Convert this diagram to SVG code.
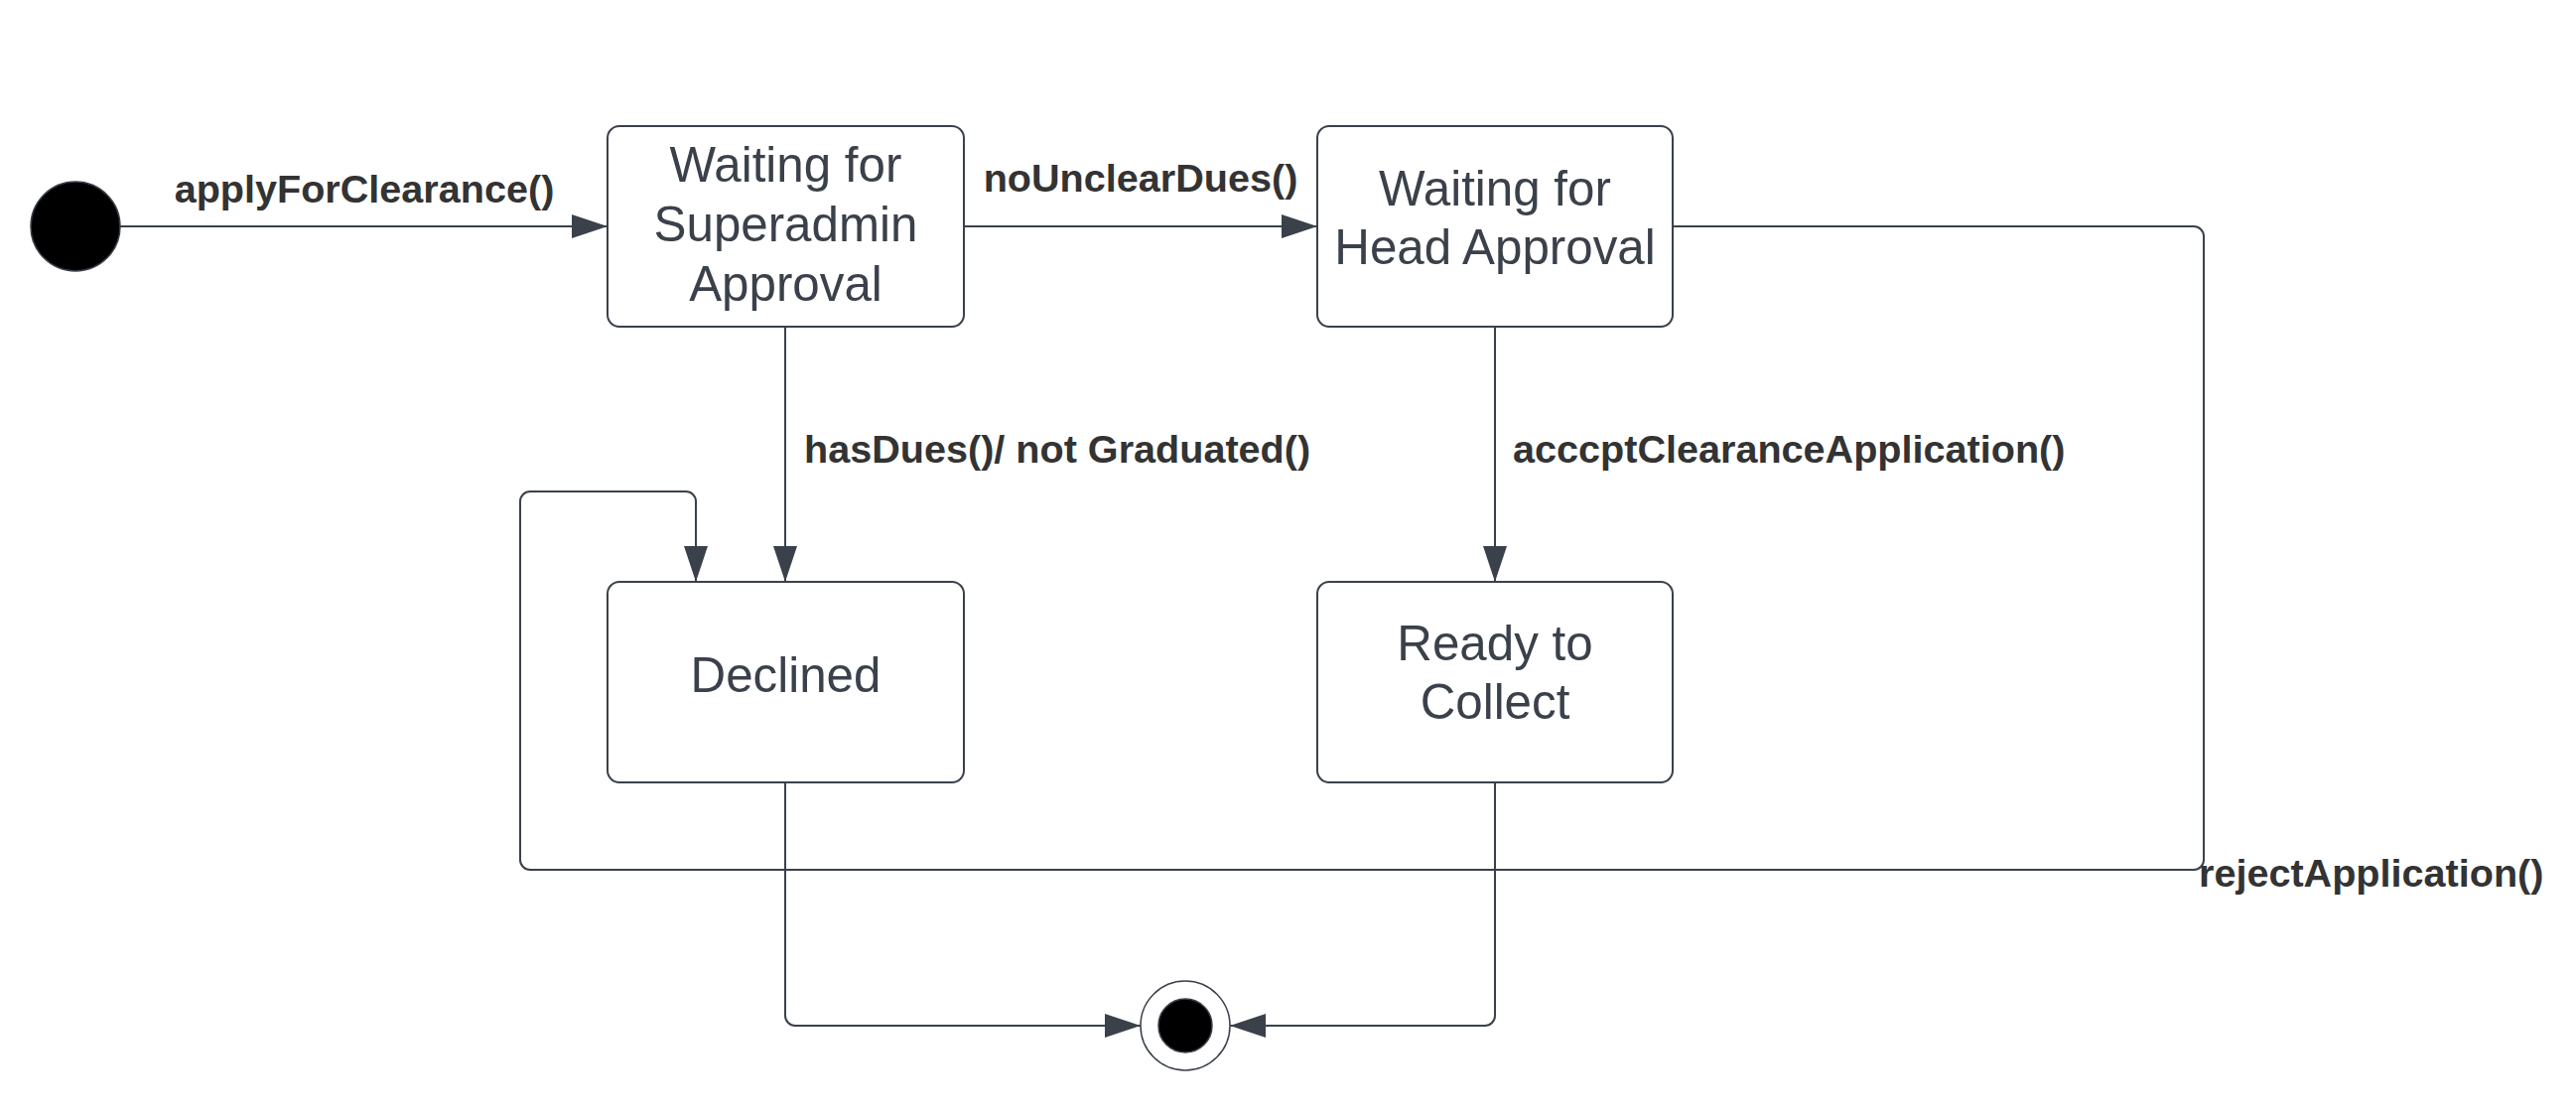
<svg xmlns="http://www.w3.org/2000/svg" width="2595" height="1127" viewBox="0 0 2595 1127">
<defs>
<style>
.state{fill:#ffffff;stroke:#3a414a;stroke-width:2}
.ntext{font-family:"Liberation Sans",Arial,sans-serif;font-size:49.3px;fill:#3a414a;text-anchor:middle}
.lbl{font-family:"Liberation Sans",Arial,sans-serif;font-size:39.6px;font-weight:bold;fill:#333333}
.conn{fill:none;stroke:#3a414a;stroke-width:2}
</style>
<marker id="arrow" viewBox="0 0 36 24" refX="36" refY="12" markerWidth="36" markerHeight="24" markerUnits="userSpaceOnUse" orient="auto">
<path d="M0,0 L36,12 L0,24 Z" fill="#3a414a"/>
</marker>
</defs>
<rect width="2595" height="1127" fill="#ffffff"/>
<g id="connectors">
<path class="conn" d="M121,228 H612" marker-end="url(#arrow)"/>
<path class="conn" d="M971,228 H1327" marker-end="url(#arrow)"/>
<path class="conn" d="M791,329 V586" marker-end="url(#arrow)"/>
<path class="conn" d="M1506,329 V586" marker-end="url(#arrow)"/>
<path class="conn" d="M1685,228 H2210 A10,10 0 0 1 2220,238 V866 A10,10 0 0 1 2210,876 H534 A10,10 0 0 1 524,866 V505 A10,10 0 0 1 534,495 H691 A10,10 0 0 1 701,505 V586" marker-end="url(#arrow)"/>
<path class="conn" d="M791,788 V1023 A10,10 0 0 0 801,1033 H1149" marker-end="url(#arrow)"/>
<path class="conn" d="M1506,788 V1023 A10,10 0 0 1 1496,1033 H1239" marker-end="url(#arrow)"/>
<text class="lbl" x="367" y="204" text-anchor="middle">applyForClearance()</text>
<text class="lbl" x="1149" y="193" text-anchor="middle">noUnclearDues()</text>
<text class="lbl" x="810" y="466">hasDues()/ not Graduated()</text>
<text class="lbl" x="1524" y="466">acccptClearanceApplication()</text>
<text class="lbl" x="2215" y="893">rejectApplication()</text>
</g>
<g id="initial">
<circle cx="76" cy="228" r="45" fill="#000000" stroke="#3a414a" stroke-width="1.5"/>
</g>
<g id="superadmin">
<rect class="state" x="612" y="127" width="359" height="202" rx="12"/>
<text class="ntext" x="791.5" y="183">Waiting for</text>
<text class="ntext" x="791.5" y="243">Superadmin</text>
<text class="ntext" x="791.5" y="303">Approval</text>
</g>
<g id="head">
<rect class="state" x="1327" y="127" width="358" height="202" rx="12"/>
<text class="ntext" x="1506" y="207">Waiting for</text>
<text class="ntext" x="1506" y="266">Head Approval</text>
</g>
<g id="declined">
<rect class="state" x="612" y="586" width="359" height="202" rx="12"/>
<text class="ntext" x="791.5" y="697">Declined</text>
</g>
<g id="ready">
<rect class="state" x="1327" y="586" width="358" height="202" rx="12"/>
<text class="ntext" x="1506" y="665">Ready to</text>
<text class="ntext" x="1506" y="724">Collect</text>
</g>
<g id="final">
<circle cx="1194" cy="1033" r="45" fill="#ffffff" stroke="#3a414a" stroke-width="1.5"/>
<circle cx="1194" cy="1033" r="27" fill="#000000" stroke="#3a414a" stroke-width="1.5"/>
</g>
</svg>
